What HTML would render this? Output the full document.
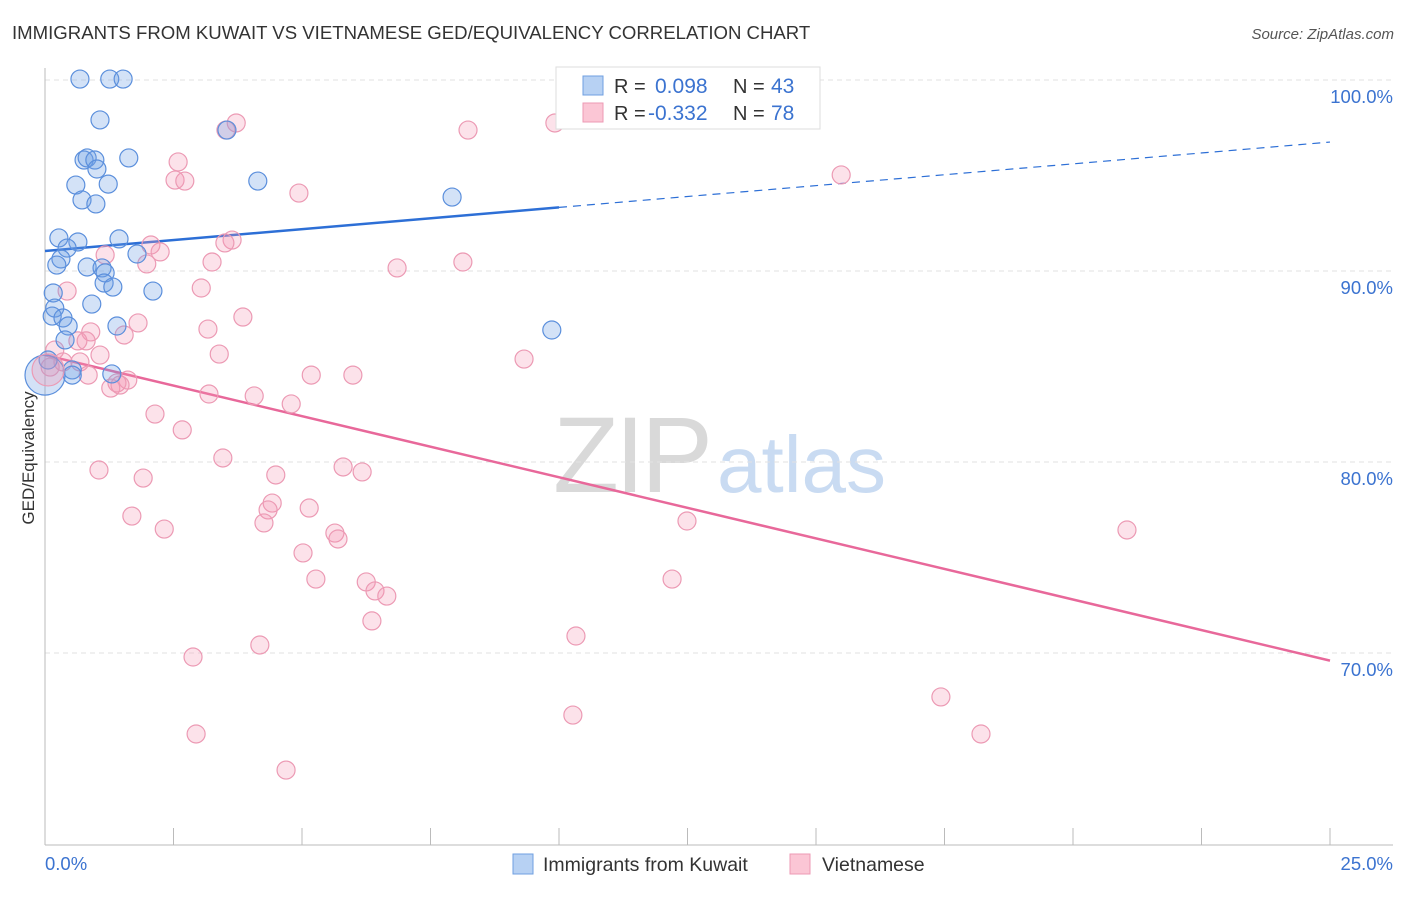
<!DOCTYPE html>
<html><head><meta charset="utf-8"><style>
body{margin:0;background:#fff;font-family:"Liberation Sans",sans-serif;}
svg text{font-family:"Liberation Sans",sans-serif;}
</style></head><body>
<svg id="chart" width="1406" height="892" xmlns="http://www.w3.org/2000/svg">
<text x="12" y="39" font-size="18.6" fill="#333">IMMIGRANTS FROM KUWAIT VS VIETNAMESE GED/EQUIVALENCY CORRELATION CHART</text>
<text x="1394" y="39" font-size="15" fill="#555" text-anchor="end" font-style="italic">Source: ZipAtlas.com</text>
<g>
<text x="553" y="492" font-size="108" fill="#d9d9d9" font-family="Liberation Serif" letter-spacing="-4">ZIP</text>
<text x="717" y="492" font-size="80" fill="#c9dbf2">atlas</text>
</g>
<g id="grid"></g>
<g id="axes"></g>
<g id="trends"></g>
<g id="points"></g>
<text transform="translate(34,458) rotate(-90)" font-size="17" fill="#333" text-anchor="middle">GED/Equivalency</text>
<g>
<rect x="556" y="67" width="264" height="62" fill="#fff" stroke="#ddd"/>
<rect x="583" y="76" width="20" height="19" fill="#b7d1f3" stroke="#6f9fe0"/>
<rect x="583" y="103" width="20" height="19" fill="#fbc6d5" stroke="#ec9ab4"/>
<text x="614" y="93" font-size="20" fill="#333">R =</text>
<text x="655" y="93" font-size="21" fill="#3b73d0">0.098</text>
<text x="733" y="93" font-size="20" fill="#333">N =</text>
<text x="771" y="93" font-size="21" fill="#3b73d0">43</text>
<text x="614" y="120" font-size="20" fill="#333">R =</text>
<text x="648" y="120" font-size="21" fill="#3b73d0">-0.332</text>
<text x="733" y="120" font-size="20" fill="#333">N =</text>
<text x="771" y="120" font-size="21" fill="#3b73d0">78</text>
</g>
<g>
<rect x="513" y="854" width="20" height="20" fill="#b7d1f3" stroke="#6f9fe0"/>
<text x="543" y="871" font-size="19.5" fill="#333">Immigrants from Kuwait</text>
</g>
<g>
<rect x="790" y="854" width="20" height="20" fill="#fbc6d5" stroke="#ec9ab4"/>
<text x="822" y="871" font-size="19.5" fill="#333">Vietnamese</text>
</g>
</svg>
<script>
const yTicks=[100,90,80,70];
const yTickLabels=["100.0%","90.0%","80.0%","70.0%"];
const xTickLabels=["0.0%","25.0%"];
const blueX=[0.68,1.26,1.52,1.07,3.54,0.76,0.82,0.97,1.63,1.01,0.60,1.23,4.14,0.72,0.99,7.92,0.27,0.64,0.43,1.44,1.79,0.31,0.23,0.82,1.11,1.17,1.15,1.32,2.10,0.16,0.19,0.91,0.14,0.35,0.45,1.40,9.86,0.39,0.53,0.53,1.30,0.06];
const blueY=[100.05,100.05,100.05,97.91,97.38,95.81,95.92,95.81,95.92,95.34,94.50,94.55,94.71,93.72,93.51,93.87,91.73,91.52,91.20,91.68,90.89,90.63,90.31,90.21,90.16,89.90,89.37,89.16,88.95,88.85,88.06,88.27,87.64,87.54,87.12,87.12,86.91,86.39,84.82,84.55,84.61,85.34];
const pinkX=[9.92,8.23,3.72,3.52,2.59,2.53,2.72,4.94,15.49,3.64,3.50,2.06,2.24,1.17,1.98,3.25,6.85,8.13,0.43,3.04,1.81,3.85,0.89,1.54,3.17,0.64,0.80,0.19,1.07,3.39,9.32,0.35,0.68,0.10,0.84,1.61,1.40,1.28,5.18,5.99,1.46,3.19,4.07,4.79,2.14,2.67,3.46,1.05,1.91,5.80,6.17,4.49,4.42,5.14,4.34,4.26,1.69,2.32,12.49,5.64,5.70,21.05,5.02,5.27,6.25,6.42,6.65,12.20,6.36,10.33,2.88,4.18,17.43,10.27,2.94,18.21,4.69];
const pinkY=[97.75,97.38,97.75,97.38,95.71,94.76,94.71,94.08,95.03,91.62,91.47,91.36,91.0,90.84,90.37,90.47,90.16,90.47,88.95,89.11,87.28,87.59,86.81,86.65,86.96,86.34,86.34,85.86,85.60,85.65,85.39,85.24,85.24,84.97,84.55,84.29,84.14,83.87,84.55,84.55,84.03,83.56,83.46,83.04,82.51,81.68,80.21,79.58,79.16,79.74,79.48,79.32,77.85,77.59,77.49,76.81,77.17,76.49,76.91,76.28,75.97,76.44,75.24,73.87,73.72,73.25,72.98,73.87,71.68,70.89,69.79,70.42,67.70,66.75,65.76,65.76,63.87];
const bigBlue=[0,84.55];
const bigPink=[0.06,84.82];
const blueTrend=[91.05,0.228];
const pinkTrend=[85.6,-0.64];
const NS="http://www.w3.org/2000/svg";
const X0=45,X1=1330,Y100=80,PX10=191;
function sx(v){return X0+(v/25)*(X1-X0);}
function sy(v){return Y100+(100-v)/10*PX10;}
function mk(tag,attrs,parent){const e=document.createElementNS(NS,tag);for(const k in attrs)e.setAttribute(k,attrs[k]);parent.appendChild(e);return e;}
const grid=document.getElementById('grid'),axes=document.getElementById('axes'),trends=document.getElementById('trends'),pts=document.getElementById('points');
yTicks.forEach((t,i)=>{
 const l=mk('line',{x1:X0,x2:1393,y1:sy(t),y2:sy(t),stroke:'#e2e2e2','stroke-dasharray':'5,4'},grid);
 
 
 const tx=mk('text',{x:1393,y:sy(t)+23,'font-size':18.5,fill:'#3b73d0','text-anchor':'end'},axes);
 tx.textContent=yTickLabels[i];
 
 
});
const ax=mk('line',{x1:X0,x2:X0,y1:68,y2:845,stroke:'#bbb'},axes);


const bx=mk('line',{x1:X0,x2:1393,y1:845,y2:845,stroke:'#bbb'},axes);


for(let i=0;i<=10;i++){const x=sx(i*2.5);const t=mk('line',{x1:x,x2:x,y1:828,y2:845,stroke:'#bbb'},axes);
 
 }
[[0,'start',45],[1,'end',1393]].forEach(([i,a,x])=>{const t=mk('text',{x:x,y:870,'font-size':18.5,fill:'#3b73d0','text-anchor':a},axes);t.textContent=xTickLabels[i];
 
 });
function pt(x,y,r,fill,stroke){const c=mk('circle',{cx:sx(x),cy:sy(y),r:r,fill:fill,stroke:stroke,'stroke-width':1.2},pts);return c;}
pinkX.forEach((x,i)=>{const c=pt(x,pinkY[i],9,'rgba(245,150,180,0.28)','#ec9ab4');
 
 });
blueX.forEach((x,i)=>{const c=pt(x,blueY[i],9,'rgba(110,160,230,0.3)','#5b8fdc');
 
 });
const bb=pt(bigBlue[0],bigBlue[1],20,'rgba(110,160,230,0.3)','#5b8fdc');


const bp=pt(bigPink[0],bigPink[1],16,'rgba(245,150,180,0.3)','#ec9ab4');


const b1=mk('line',{x1:sx(0),y1:sy(blueTrend[0]),x2:sx(10),y2:sy(blueTrend[0]+blueTrend[1]*10),stroke:'#2d6fd6','stroke-width':2.5},trends);


const b2=mk('line',{x1:sx(10),y1:sy(blueTrend[0]+blueTrend[1]*10),x2:sx(25),y2:sy(blueTrend[0]+blueTrend[1]*25),stroke:'#2d6fd6','stroke-width':1.2,'stroke-dasharray':'8,6'},trends);


const p1=mk('line',{x1:sx(0),y1:sy(pinkTrend[0]),x2:sx(25),y2:sy(pinkTrend[0]+pinkTrend[1]*25),stroke:'#e8689a','stroke-width':2.5},trends);


</script>
</body></html>
